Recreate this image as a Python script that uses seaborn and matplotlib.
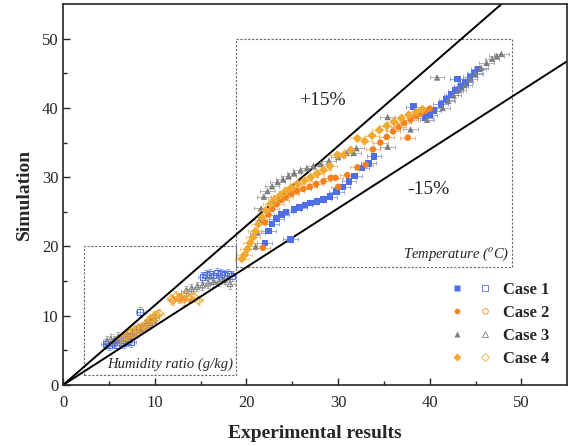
import matplotlib
matplotlib.use("Agg")
import matplotlib.pyplot as plt
import seaborn as sns
from matplotlib.patches import Rectangle
from matplotlib.lines import Line2D
from matplotlib.legend_handler import HandlerTuple

# temperature points (filled markers)
c1_tx = [22.0, 22.4, 22.8, 23.3, 23.8, 24.3, 24.8, 25.2, 25.8, 26.4, 27.0, 27.7, 28.4, 29.1, 29.8,
         30.5, 31.2, 31.8, 32.6, 33.3, 33.9, 38.2, 39.5, 40.0, 40.4, 41.2, 41.8, 42.3, 42.8, 43.0,
         43.4, 43.9, 44.4, 44.9, 45.3]
c1_ty = [20.5, 22.2, 23.2, 24.0, 24.6, 25.0, 21.0, 25.3, 25.6, 26.0, 26.3, 26.5, 26.8, 27.2, 27.9,
         28.6, 29.4, 30.2, 31.3, 32.0, 33.0, 40.2, 38.6, 39.0, 39.6, 40.5, 41.2, 41.9, 42.5, 44.2,
         43.1, 43.7, 44.4, 45.0, 45.6]

c2_tx = [21.8, 22.0, 22.4, 22.8, 23.3, 23.8, 24.3, 24.9, 25.5, 26.2, 26.9, 27.6, 28.4, 29.2, 29.7,
         30.0, 31.0, 32.1, 33.0, 33.8, 34.6, 35.3, 36.0, 36.6, 37.2, 37.6, 37.9, 38.5, 39.0, 39.5, 40.0]
c2_ty = [19.8, 23.5, 24.6, 25.4, 26.1, 26.7, 27.1, 27.6, 28.0, 28.3, 28.6, 29.0, 29.4, 29.9, 29.9,
         28.6, 30.3, 31.4, 31.8, 34.0, 35.0, 35.8, 36.6, 37.2, 37.8, 35.7, 38.3, 38.8, 39.2, 39.6, 39.9]

c3_tx = [21.0, 21.2, 21.4, 21.6, 21.9, 22.3, 22.8, 23.4, 24.0, 24.6, 25.2, 25.9, 26.6, 27.3, 28.1,
         29.0, 30.0, 30.9, 31.7, 32.0, 35.4, 35.4, 37.9, 39.7, 40.8, 41.4, 42.0, 42.6, 43.2, 43.8,
         44.4, 45.0, 45.6, 46.2, 46.8, 47.3, 47.8]
c3_ty = [20.0, 22.0, 23.8, 25.5, 27.2, 28.0, 28.7, 29.3, 29.7, 30.2, 30.6, 31.0, 31.3, 31.6, 31.9,
         32.4, 32.9, 33.5, 33.5, 34.2, 38.7, 34.4, 36.9, 38.3, 44.4, 40.0, 41.0, 41.8, 42.6, 43.3,
         44.2, 44.9, 45.8, 46.5, 47.1, 47.5, 47.8]

c4_tx = [19.5, 19.8, 20.1, 20.4, 20.7, 21.0, 21.3, 21.7, 22.1, 22.6, 23.1, 23.7, 24.3, 24.9, 25.6,
         26.3, 27.0, 27.7, 28.4, 29.1, 29.9, 30.6, 31.4, 32.1, 32.9, 33.7, 34.5, 35.3, 36.1, 36.9,
         37.7, 38.5, 39.2]
c4_ty = [18.2, 18.8, 19.6, 20.5, 21.3, 22.2, 23.2, 24.2, 25.2, 26.1, 26.8, 27.4, 28.0, 28.5, 29.0,
         29.5, 30.0, 30.5, 31.0, 31.6, 33.2, 33.2, 33.9, 35.6, 35.2, 36.0, 36.8, 37.4, 38.0, 38.5,
         39.0, 39.4, 39.8]

# humidity ratio points (open markers)
c1_hx = [4.6, 5.0, 5.4, 5.8, 6.2, 6.6, 7.0, 7.4, 8.4, 15.2, 15.6, 16.0, 16.4, 16.8, 17.2, 17.6, 18.0, 18.4]
c1_hy = [5.9, 5.7, 6.0, 5.8, 6.1, 6.0, 6.3, 6.2, 10.5, 15.6, 15.9, 16.0, 15.8, 16.2, 16.0, 15.9, 16.1, 15.7]

c2_hx = [7.2, 7.8, 8.4, 9.0, 9.6, 12.0, 12.6, 13.2, 13.8]
c2_hy = [7.0, 7.5, 8.0, 8.5, 9.1, 12.2, 12.5, 12.3, 12.6]

c3_hx = [4.8, 5.2, 5.6, 6.0, 6.5, 7.0, 7.5, 8.0, 8.5, 9.0, 9.5, 10.0, 13.4, 14.0, 14.6, 15.2,
         15.8, 16.4, 17.0, 17.6, 18.2]
c3_hy = [6.3, 6.6, 6.4, 6.9, 7.0, 7.3, 7.4, 7.9, 8.1, 8.6, 9.0, 9.6, 13.6, 13.9, 14.2, 14.4,
         14.7, 14.9, 15.0, 15.2, 14.6]

c4_hx = [6.2, 6.6, 7.0, 7.4, 7.8, 8.2, 8.6, 9.0, 9.3, 9.6, 9.9, 10.2, 10.5, 11.8, 12.3, 12.8,
         13.3, 13.8, 14.3, 14.8]
c4_hy = [6.6, 6.9, 7.2, 7.6, 7.9, 8.2, 8.4, 8.8, 9.2, 9.6, 9.9, 10.1, 10.3, 12.4, 12.8, 12.6,
         12.9, 12.5, 12.7, 12.2]

cases = ["Case 1", "Case 2", "Case 3", "Case 4"]
colors = ["#4f6fe8", "#f5821f", "#7f7f7f", "#f0aa32"]
markers = ["s", "o", "^", "D"]

temp = [(c1_tx, c1_ty), (c2_tx, c2_ty), (c3_tx, c3_ty), (c4_tx, c4_ty)]
hum = [(c1_hx, c1_hy), (c2_hx, c2_hy), (c3_hx, c3_hy), (c4_hx, c4_hy)]

sns.set_style("ticks")
plt.rcParams["font.family"] = ["Liberation Serif", "DejaVu Serif"]
plt.rcParams["mathtext.fontset"] = "stix"

fig = plt.figure(figsize=(5.69, 4.46), dpi=100)
ax = fig.add_axes([0.111, 0.137, 0.886, 0.854])

for i in range(4):
    hx, hy = hum[i]
    ax.errorbar(hx, hy, xerr=0.5, yerr=0.7, fmt="none", ecolor=colors[i], alpha=0.6,
                elinewidth=0.7, capsize=1.5, capthick=0.7)
    sns.scatterplot(x=hx, y=hy, ax=ax, marker=markers[i], s=16, facecolor="none",
                    edgecolor=colors[i], linewidth=0.8)

for i in range(4):
    tx, ty = temp[i]
    ax.errorbar(tx, ty, xerr=0.8, fmt="none", ecolor=colors[i], alpha=0.6,
                elinewidth=0.7, capsize=1.5, capthick=0.7)
    sns.scatterplot(x=tx, y=ty, ax=ax, marker=markers[i], s=22, color=colors[i],
                    edgecolor="none", zorder=3)

# +/-15% lines
ax.plot([0, 55 / 1.15], [0, 55], color="black", lw=1.4)
ax.plot([0, 55], [0, 55 * 0.85], color="black", lw=1.4)

# dashed regions
ax.add_patch(Rectangle((2.3, 1.5), 16.6, 18.5, fill=False, ls=(0, (2, 1.5)), lw=0.8, ec="#666666"))
ax.add_patch(Rectangle((18.9, 17.0), 30.1, 33.0, fill=False, ls=(0, (2, 1.5)), lw=0.8, ec="#666666"))

ax.text(18.6, 2.0, "Humidity ratio (g/kg)", style="italic", fontsize=10.5, ha="right", va="bottom")
ax.text(48.7, 17.6, "Temperature ($^o$C)", style="italic", fontsize=10.5, ha="right", va="bottom")
ax.text(28.3, 41.0, "+15%", fontsize=14, ha="center", va="center")
ax.text(39.8, 28.2, "-15%", fontsize=14, ha="center", va="center")

ax.set_xlim(0, 55)
ax.set_ylim(0, 55)
ax.set_xticks([0, 10, 20, 30, 40, 50])
ax.set_yticks([0, 10, 20, 30, 40, 50])
ax.set_xticks([5, 15, 25, 35, 45], minor=True)
ax.set_yticks([5, 15, 25, 35, 45], minor=True)
ax.tick_params(which="major", direction="in", length=5, width=1, labelsize=12)
ax.tick_params(which="minor", direction="in", length=3, width=1)
ax.tick_params(axis="x", pad=7)
for sp in ax.spines.values():
    sp.set_linewidth(1.2)
ax.set_xlabel("Experimental results", fontsize=14, fontweight="bold", labelpad=10)
ax.set_ylabel("Simulation", fontsize=14, fontweight="bold", labelpad=6)

handles = []
for i in range(4):
    h1 = Line2D([], [], ls="none", marker=markers[i], color=colors[i], markersize=4, mec="none")
    h2 = Line2D([], [], ls="none", marker=markers[i], mfc="none", mec=colors[i], markersize=4, mew=0.6)
    handles.append((h1, h2))
ax.legend(handles, cases, handler_map={tuple: HandlerTuple(ndivide=None, pad=0.9)},
          loc="upper left", bbox_to_anchor=(0.74, 0.31), frameon=False, handlelength=2.4,
          handletextpad=0.7, labelspacing=0.42, prop={"weight": "bold", "size": 12})

fig.savefig("out.png", dpi=100)
